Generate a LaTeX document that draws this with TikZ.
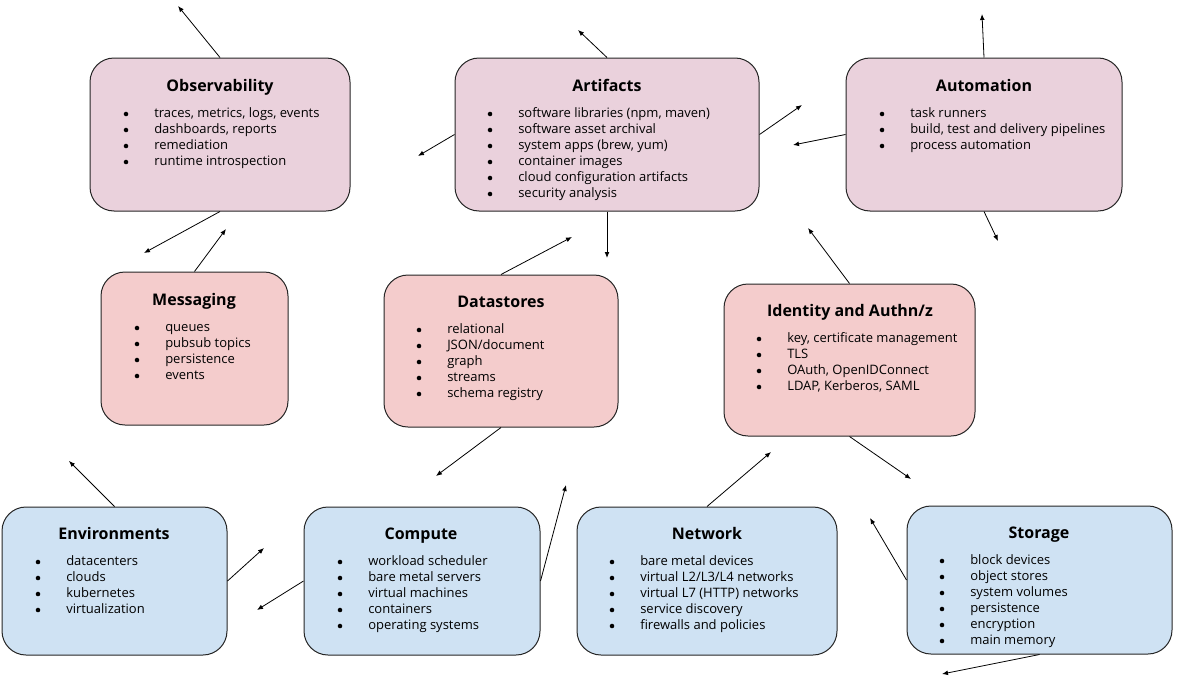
\documentclass[tikz,border=0pt]{standalone}
\usepackage{fontspec}
\setmainfont{Open Sans}
\usetikzlibrary{arrows.meta,fit}

\begin{document}
\begin{tikzpicture}[x=0.75pt,y=-0.75pt,
  box/.style={draw=black!85, line width=0.75pt, rounded corners=18pt, inner sep=0pt},
  title/.style={inner sep=0pt, text height=9pt, text depth=0pt, font=\fontsize{12}{14}\selectfont\bfseries},
  entry/.style={anchor=base west, inner sep=0pt, font=\fontsize{9.75}{12}\selectfont},
  dot/.style={circle, fill=black, inner sep=0pt, minimum size=3.4pt},
  link/.style={draw=black, line width=0.6pt, -{Latex[length=4.5pt,width=3.6pt]}}]
\useasboundingbox (0,0) rectangle (1178,678);
\definecolor{pinkbox}{HTML}{EAD1DC}
\definecolor{redbox}{HTML}{F4CCCC}
\definecolor{bluebox}{HTML}{CFE2F3}
% top row
\node [box, fill=pinkbox, fit={(90,58) (350,211)}] (obs) {};
\node [title] (obs-t) at (220,85) {Observability};
\foreach \t [count=\i from 0] in {{traces, metrics, logs, events}, {dashboards, reports}, remediation, runtime introspection}
{ \node [dot] (obs-b\i) at (126,114+16*\i) {};
  \node [entry] (obs-\i) at (154,117.5+16*\i) {\t}; }
\node [box, fill=pinkbox, fit={(455,58) (759,211)}] (art) {};
\node [title] (art-t) at (607,85) {Artifacts};
\foreach \t [count=\i from 0] in {{software libraries (npm, maven)}, software asset archival, {system apps (brew, yum)}, container images, cloud configuration artifacts, security analysis}
{ \node [dot] (art-b\i) at (490,114+16*\i) {};
  \node [entry] (art-\i) at (518,117.5+16*\i) {\t}; }
\node [box, fill=pinkbox, fit={(846,58) (1122,211)}] (aut) {};
\node [title] (aut-t) at (984,85) {Automation};
\foreach \t [count=\i from 0] in {task runners, {build, test and delivery pipelines}, process automation}
{ \node [dot] (aut-b\i) at (882,114+16*\i) {};
  \node [entry] (aut-\i) at (910,117.5+16*\i) {\t}; }
% middle row
\node [box, fill=redbox, fit={(101,272) (288,425)}] (msg) {};
\node [title] (msg-t) at (194,299) {Messaging};
\foreach \t [count=\i from 0] in {queues, pubsub topics, persistence, events}
{ \node [dot] (msg-b\i) at (137,328+16*\i) {};
  \node [entry] (msg-\i) at (165,331.5+16*\i) {\t}; }
\node [box, fill=redbox, fit={(384,275) (618,427)}] (dat) {};
\node [title] (dat-t) at (501,301) {Datastores};
\foreach \t [count=\i from 0] in {relational, JSON/document, graph, streams, schema registry}
{ \node [dot] (dat-b\i) at (419,330+16*\i) {};
  \node [entry] (dat-\i) at (447,333.5+16*\i) {\t}; }
\node [box, fill=redbox, fit={(724,284) (975,436)}] (idn) {};
\node [title] (idn-t) at (850,310) {Identity and Authn/z};
\foreach \t [count=\i from 0] in {{key, certificate management}, TLS, {OAuth, OpenIDConnect}, {LDAP, Kerberos, SAML}}
{ \node [dot] (idn-b\i) at (759,339+16*\i) {};
  \node [entry] (idn-\i) at (787,342.5+16*\i) {\t}; }
% bottom row
\node [box, fill=bluebox, fit={(2,507) (227,655)}] (env) {};
\node [title] (env-t) at (114,533) {Environments};
\foreach \t [count=\i from 0] in {datacenters, clouds, kubernetes, virtualization}
{ \node [dot] (env-b\i) at (38,562+16*\i) {};
  \node [entry] (env-\i) at (66,565.5+16*\i) {\t}; }
\node [box, fill=bluebox, fit={(304,507) (540,655)}] (cmp) {};
\node [title] (cmp-t) at (421,533) {Compute};
\foreach \t [count=\i from 0] in {workload scheduler, bare metal servers, virtual machines, containers, operating systems}
{ \node [dot] (cmp-b\i) at (340,562+16*\i) {};
  \node [entry] (cmp-\i) at (368,565.5+16*\i) {\t}; }
\node [box, fill=bluebox, fit={(577,507) (837,655)}] (net) {};
\node [title] (net-t) at (707,533) {Network};
\foreach \t [count=\i from 0] in {bare metal devices, virtual L2/L3/L4 networks, virtual L7 (HTTP) networks, service discovery, firewalls and policies}
{ \node [dot] (net-b\i) at (612,562+16*\i) {};
  \node [entry] (net-\i) at (640,565.5+16*\i) {\t}; }
\node [box, fill=bluebox, fit={(907,506) (1172,654)}] (sto) {};
\node [title] (sto-t) at (1039,532) {Storage};
\foreach \t [count=\i from 0] in {block devices, object stores, system volumes, persistence, encryption, main memory}
{ \node [dot] (sto-b\i) at (942,561+16*\i) {};
  \node [entry] (sto-\i) at (970,564.5+16*\i) {\t}; }
% loose arrow ends
\coordinate (e1) at (178,6);
\coordinate (e2) at (144,253);
\coordinate (e3) at (226,229);
\coordinate (e4) at (578,30);
\coordinate (e5) at (418,156);
\coordinate (e6) at (802,105);
\coordinate (e7) at (793,145);
\coordinate (e8) at (982,14);
\coordinate (e9) at (998,241);
\coordinate (e10) at (607,258);
\coordinate (e11) at (572,237);
\coordinate (e12) at (808,228);
\coordinate (e13) at (436,476);
\coordinate (e14) at (69,461);
\coordinate (e15) at (264,548);
\coordinate (e16) at (257,610);
\coordinate (e17) at (566,485);
\coordinate (e18) at (771,452);
\coordinate (e19) at (911,479);
\coordinate (e20) at (870,518);
\coordinate (e21) at (942,674);
\draw [link] (obs.north) -- (e1);
\draw [link] (obs.south) -- (e2);
\draw [link] (msg.north) -- (e3);
\draw [link] (art.north) -- (e4);
\draw [link] (art.west) -- (e5);
\draw [link] (art.east) -- (e6);
\draw [link] (aut.west) -- (e7);
\draw [link] (aut.north) -- (e8);
\draw [link] (aut.south) -- (e9);
\draw [link] (art.south) -- (e10);
\draw [link] (dat.north) -- (e11);
\draw [link] (idn.north) -- (e12);
\draw [link] (dat.south) -- (e13);
\draw [link] (env.north) -- (e14);
\draw [link] (env.east) -- (e15);
\draw [link] (cmp.west) -- (e16);
\draw [link] (cmp.east) -- (e17);
\draw [link] (net.north) -- (e18);
\draw [link] (idn.south) -- (e19);
\draw [link] (sto.west) -- (e20);
\draw [link] (sto.south) -- (e21);
\end{tikzpicture}
\end{document}
